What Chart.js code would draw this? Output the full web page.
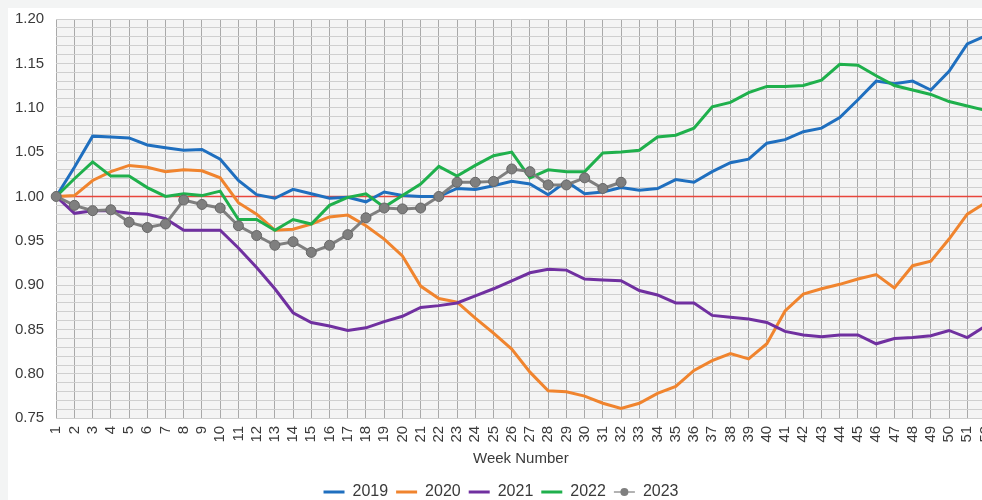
<!DOCTYPE html>
<html>
<head>
  <title>Weekly Index by Year</title>
  <script src="https://cdn.jsdelivr.net/npm/chart.js@4"></script>
  <style>
    html, body { margin: 0; padding: 0; background: #f3f4f4; overflow: hidden; width: 982px; height: 500px; }
    #card { position: absolute; left: 8px; top: 8px; width: 1000px; height: 492px; background: #fff; }
    #wrap { position: absolute; left: -2px; top: -2px; width: 1013px; height: 512px; }
  </style>
</head>
<body>
<div id="card"></div>
<div id="wrap"><canvas id="weekChart"></canvas></div>

<script>
  const weeks = ['1','2','3','4','5','6','7','8','9','10','11','12','13','14','15','16','17','18','19','20',
    '21','22','23','24','25','26','27','28','29','30','31','32','33','34','35','36','37','38','39','40',
    '41','42','43','44','45','46','47','48','49','50','51','52'];

  const y2019 = [1.000,1.033,1.068,1.067,1.066,1.058,1.055,1.052,1.053,1.042,
    1.018,1.002,0.998,1.008,1.003,0.998,0.999,0.994,1.005,1.001,
    1.000,1.000,1.009,1.008,1.012,1.017,1.014,1.002,1.017,1.003,
    1.005,1.010,1.007,1.009,1.019,1.016,1.028,1.038,1.042,1.060,
    1.064,1.073,1.077,1.089,1.109,1.130,1.127,1.130,1.120,1.141,
    1.172,1.181];

  const y2020 = [1.000,1.001,1.018,1.028,1.035,1.033,1.028,1.030,1.029,1.021,
    0.993,0.980,0.962,0.963,0.969,0.977,0.979,0.967,0.952,0.933,
    0.899,0.885,0.881,0.863,0.846,0.828,0.802,0.781,0.780,0.775,
    0.767,0.761,0.767,0.778,0.786,0.804,0.815,0.823,0.817,0.834,
    0.871,0.890,0.896,0.901,0.907,0.912,0.897,0.922,0.927,0.952,
    0.980,0.993];

  const y2021 = [1.000,0.981,0.984,0.984,0.981,0.980,0.975,0.962,0.962,0.962,
    0.942,0.920,0.896,0.869,0.858,0.854,0.849,0.852,0.859,0.865,
    0.875,0.877,0.880,0.888,0.896,0.905,0.914,0.918,0.917,0.907,
    0.906,0.905,0.894,0.889,0.880,0.880,0.866,0.864,0.862,0.858,
    0.848,0.844,0.842,0.844,0.844,0.834,0.840,0.841,0.843,0.849,
    0.841,0.854];

  const y2022 = [1.000,1.020,1.039,1.023,1.023,1.010,1.000,1.003,1.001,1.006,
    0.974,0.974,0.962,0.974,0.969,0.990,0.999,1.003,0.988,1.001,
    1.014,1.034,1.023,1.035,1.046,1.050,1.021,1.030,1.028,1.028,
    1.049,1.050,1.052,1.067,1.069,1.077,1.101,1.106,1.117,1.124,
    1.124,1.125,1.131,1.149,1.148,1.136,1.125,1.120,1.115,1.107,
    1.102,1.097];

  const y2023 = [1.000,0.990,0.984,0.985,0.971,0.965,0.969,0.996,0.991,0.987,
    0.967,0.956,0.945,0.949,0.937,0.945,0.957,0.976,0.987,0.986,
    0.987,1.000,1.016,1.016,1.017,1.031,1.028,1.013,1.013,1.021,
    1.009,1.016];

  const baseline = 1.0;
  const textColor = '#3a3a3a';
  const fontFamily = '"Liberation Sans", Arial, sans-serif';

  // plot background + red reference line at 1.00
  const plotDecor = {
    id: 'plotDecor',
    beforeDraw(chart) {
      const { ctx, chartArea: a } = chart;
      ctx.save();
      ctx.fillStyle = '#f4f4f4';
      ctx.fillRect(a.left, a.top, a.right - a.left, a.bottom - a.top);
      ctx.restore();
    },
    beforeDatasetsDraw(chart) {
      const { ctx, chartArea: a, scales } = chart;
      const py = scales.y.getPixelForValue(baseline);
      ctx.save();
      ctx.strokeStyle = '#e8463c';
      ctx.lineWidth = 1.5;
      ctx.beginPath();
      ctx.moveTo(a.left, py);
      ctx.lineTo(a.right, py);
      ctx.stroke();
      ctx.restore();
    },
    afterDraw(chart) {
      // dot on the 2023 legend line
      const legend = chart.legend;
      if (!legend || !legend.legendHitBoxes) return;
      const bw = legend.options.labels.pointStyleWidth;
      legend.legendItems.forEach((item, i) => {
        if (item.datasetIndex !== 4) return;
        const box = legend.legendHitBoxes[i];
        const ctx = chart.ctx;
        ctx.save();
        ctx.fillStyle = '#7f7f7f';
        ctx.beginPath();
        ctx.arc(box.left + bw / 2, box.top + box.height / 2, 4, 0, Math.PI * 2);
        ctx.fill();
        ctx.restore();
      });
    }
  };

  function line(label, data, color, order) {
    return {
      label, data, order,
      borderColor: color,
      backgroundColor: color,
      borderWidth: 3,
      pointRadius: 0,
      pointHoverRadius: 0,
      tension: 0
    };
  }

  const ds2023 = line('2023', y2023, '#7f7f7f', 1);
  ds2023.pointRadius = 5;
  ds2023.pointBackgroundColor = '#7f7f7f';
  ds2023.pointBorderColor = '#676767';
  ds2023.pointBorderWidth = 1;

  new Chart(document.getElementById('weekChart'), {
    type: 'line',
    data: {
      labels: weeks,
      datasets: [
        line('2019', y2019, '#1f6fbf', 5),
        line('2020', y2020, '#f0842e', 4),
        line('2021', y2021, '#7030a0', 3),
        line('2022', y2022, '#1fb04c', 2),
        ds2023
      ]
    },
    options: {
      responsive: true,
      maintainAspectRatio: false,
      animation: false,
      layout: { padding: { left: 5, right: 12, top: 8, bottom: 0 } },
      plugins: {
        tooltip: { enabled: false },
        legend: {
          position: 'bottom',
          labels: {
            usePointStyle: true,
            pointStyle: 'line',
            pointStyleWidth: 21,
            padding: 8,
            color: textColor,
            font: { family: fontFamily, size: 16 },
            sort: (a, b) => a.datasetIndex - b.datasetIndex
          }
        }
      },
      scales: {
        x: {
          offset: false,
          grid: { color: '#a9a9a9', lineWidth: 1, drawTicks: false },
          border: { display: false },
          ticks: {
            autoSkip: false,
            maxRotation: 90,
            minRotation: 90,
            padding: 7.5,
            color: textColor,
            font: { family: fontFamily, size: 15 }
          },
          title: {
            display: true,
            text: 'Week Number',
            color: textColor,
            font: { family: fontFamily, size: 15 },
            padding: { top: 0, bottom: 8 }
          }
        },
        y: {
          min: 0.75,
          max: 1.20,
          grid: { color: '#cfcfcf', lineWidth: 1, drawTicks: false },
          border: { display: false },
          ticks: {
            stepSize: 0.01,
            autoSkip: false,
            padding: 12,
            color: textColor,
            font: { family: fontFamily, size: 15 },
            callback: v => (Math.round(v * 100) % 5 === 0 ? v.toFixed(2) : '')
          }
        }
      }
    },
    plugins: [plotDecor]
  });
</script>
</body>
</html>
